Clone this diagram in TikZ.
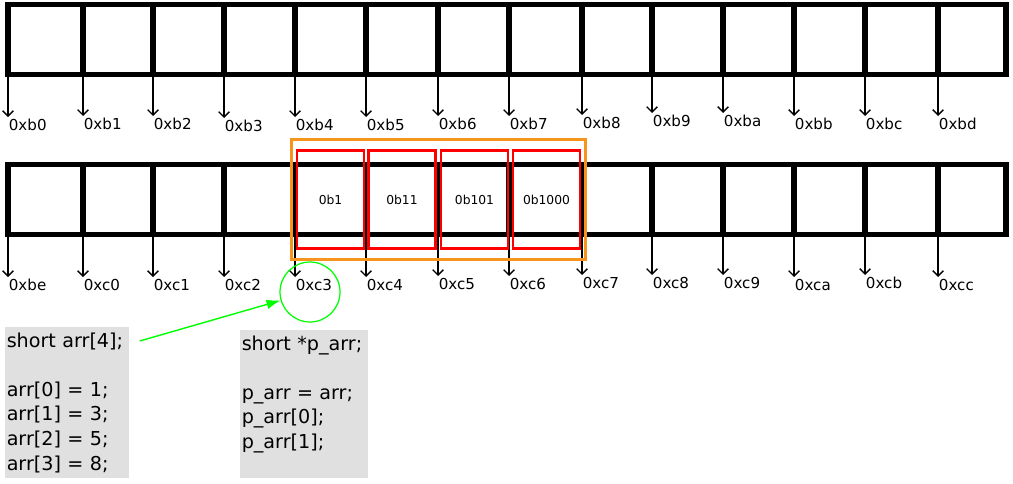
\documentclass[tikz,border=0pt]{standalone}
\usepackage{fontspec}
\setmainfont{DejaVu Sans}
\usetikzlibrary{arrows.meta,fit}
\definecolor{myorange}{RGB}{247,148,30}
\colorlet{mygray}{black!12}

\begin{document}
\begin{tikzpicture}[x=0.02cm,y=-0.02cm]
\tikzset{cell/.style={draw,line width=3.2pt},
  addr/.style={anchor=north west,inner xsep=0.3pt,inner ysep=1pt,font=\fontsize{8.6}{10}\selectfont},
  ptr/.style={-{Straight Barb[length=3pt,width=6pt]},line width=0.8pt},
  val/.style={draw=red,line width=1.6pt,minimum width=1.34cm,minimum height=1.96cm,font=\fontsize{7}{8}\selectfont},
  code/.style={anchor=north west,fill=mygray,align=left,inner xsep=0.8pt,inner ysep=3pt,font=\fontsize{10.9}{14}\selectfont}}
\useasboundingbox (0,0) rectangle (1013,483);

% the two rows of memory
\foreach \a/\b in {8/83,83/153,153/224,224/295,295/366,366/438,438/509,509/582,582/652,652/723,723/794,794/865,865/938,938/1006}{
  \draw[cell] (\a,4.5) rectangle (\b,74.5);
  \draw[cell] (\a,164.5) rectangle (\b,234.5);
}

% addresses
\foreach \x/\t/\y in {8/0xb0/117,83/0xb1/116,153/0xb2/116,224/0xb3/118,295/0xb4/117,366/0xb5/117,438/0xb6/116,509/0xb7/116,582/0xb8/115,652/0xb9/113,723/0xba/113,794/0xbb/116,865/0xbc/116,938/0xbd/116}{
  \coordinate (s\t) at (\x,74.5);
  \node[addr] (\t) at (\x,\y) {\t};
  \draw[ptr] (s\t) -- (\t.north west);
}
\foreach \x/\t/\y in {8/0xbe/277,83/0xc0/277,153/0xc1/277,224/0xc2/277,295/0xc3/277,366/0xc4/277,438/0xc5/276,509/0xc6/276,582/0xc7/275,652/0xc8/275,723/0xc9/275,794/0xca/277,865/0xcb/275,938/0xcc/277}{
  \coordinate (s\t) at (\x,234.5);
  \node[addr] (\t) at (\x,\y) {\t};
  \draw[ptr] (s\t) -- (\t.north west);
}

% the array
\node[val] (v0) at (330.5,199.5) {0b1};
\node[val] (v1) at (402,199.5) {0b11};
\node[val] (v2) at (474.5,199.5) {0b101};
\node[val] (v3) at (546.5,199.5) {0b1000};
\node[draw=myorange,line width=1.6pt,fit=(v0)(v3),inner xsep=2.2pt,inner ysep=5.4pt] (arr) {};

\node[draw=green,circle,minimum size=1.2cm,line width=0.7pt] (ring) at (310,292) {};

% code
\node[code,text width=69pt] (arrdecl) at (5,327) {short arr[4];\\[14pt]
  arr[0] = 1;\\ arr[1] = 3;\\ arr[2] = 5;\\ arr[3] = 8;};
\node[code,text width=71pt] (ptrdecl) at (240,330) {short *p\_arr;\\[14pt]
  p\_arr = arr;\\ p\_arr[0];\\ p\_arr[1];\\ \mbox{}};

\draw[-{Latex[length=8pt,width=5.5pt]},green,line width=0.8pt] ([shift={(10,14)}]arrdecl.north east) -- (ring);
\end{tikzpicture}
\end{document}
